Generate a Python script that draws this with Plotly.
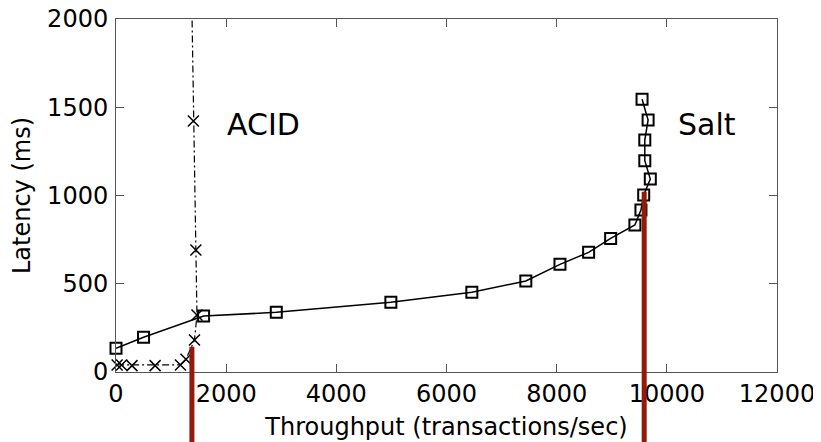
import plotly.graph_objects as go

# Salt: squares, solid line
salt_x = [0, 500, 1590, 2910, 4990, 6460, 7440, 8060, 8580, 8980, 9420, 9530, 9580, 9700, 9600, 9600, 9660, 9550]
salt_y = [134, 197, 317, 338, 395, 452, 516, 610, 678, 757, 833, 918, 1003, 1093, 1197, 1314, 1428, 1545]

# ACID: crosses, dash-dot line (last point runs off the top)
acid_x = [20, 100, 290, 710, 1170, 1270, 1425, 1470, 1450, 1405, 1360]
acid_y = [40, 40, 36, 36, 40, 72, 181, 323, 691, 1422, 2400]

# red marker bars (peak throughput), top in ms
peak_x = [1378, 9589]
peak_top = [143, 1021]

labels = ['ACID', 'Salt']
label_x = [2672, 10727]
label_y = [1405, 1405]

x_ticks = [0, 2000, 4000, 6000, 8000, 10000, 12000]
y_ticks = [0, 500, 1000, 1500, 2000]

Y_MAX = 2000
FONT = 'DejaVu Sans'

fig = go.Figure()

fig.add_trace(go.Scatter(
    x=acid_x, y=acid_y, mode='lines+markers', name='ACID',
    line=dict(color='black', width=1.2, dash='7px,3px,2px,3px'),
    marker=dict(symbol='x-thin-open', size=11, color='black', line=dict(width=1.5, color='black')),
    cliponaxis=False,
))
fig.add_trace(go.Scatter(
    x=salt_x, y=salt_y, mode='lines+markers', name='Salt',
    line=dict(color='black', width=1.5),
    marker=dict(symbol='square-open', size=11, color='black', line=dict(width=2, color='black')),
    cliponaxis=False,
))

# red bars from the curve down past the bottom of the picture
for px, top in zip(peak_x, peak_top):
    fig.add_shape(type='line', xref='x', yref='paper',
                  x0=px, x1=px, y0=top / Y_MAX, y1=-0.3,
                  line=dict(color='#921a0a', width=5), layer='above')

for t, lx, ly in zip(labels, label_x, label_y):
    fig.add_annotation(x=lx, y=ly, text=t, showarrow=False,
                       font=dict(family=FONT, size=30, color='black'))

axis_style = dict(
    showgrid=False, zeroline=False, showline=True, linecolor='#555', linewidth=1,
    mirror='ticks', ticks='inside', ticklen=8, tickcolor='#555', tickwidth=1,
    tickfont=dict(family=FONT, size=24, color='black'), automargin=False,
    ticklabeloverflow='allow',
)

fig.update_xaxes(range=[0, 12000], tickvals=x_ticks, ticktext=[str(v) for v in x_ticks],
                 title=dict(text='Throughput (transactions/sec)', font=dict(family=FONT, size=24, color='black'), standoff=11),
                 **axis_style)
fig.update_yaxes(range=[0, Y_MAX], tickvals=y_ticks, ticktext=[str(v) for v in y_ticks],
                 ticklabelstandoff=2,
                 title=dict(text='Latency (ms)', font=dict(family=FONT, size=24, color='black'), standoff=10),
                 **axis_style)

# page body has an 8px margin, so the figure is sized 8px short of the window
fig.update_layout(
    width=813, height=434,
    margin=dict(l=108, r=44, t=11, b=70),
    paper_bgcolor='white', plot_bgcolor='white',
    showlegend=False,
    font=dict(family=FONT),
)

fig.write_html('out.html')
